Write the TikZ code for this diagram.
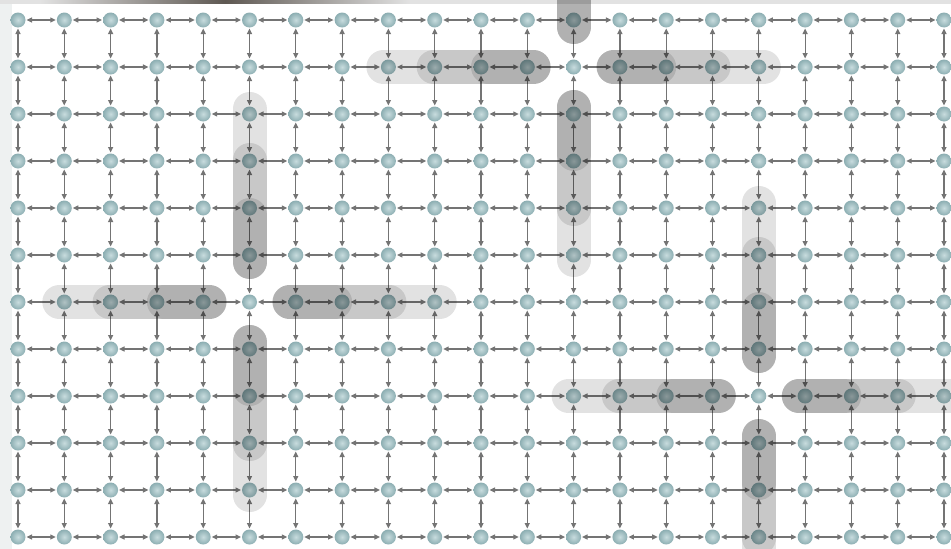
\documentclass[tikz,border=0pt]{standalone}
\usetikzlibrary{arrows.meta}
\definecolor{arrgray}{HTML}{747474}
\definecolor{nodein}{HTML}{C8DCDE}
\definecolor{nodeout}{HTML}{8CAEB2}
\definecolor{stripgray}{HTML}{EEF1F1}
\definecolor{topgray}{HTML}{E2E2E2}
\definecolor{topdark}{HTML}{5E5852}
\tikzset{
  gridnode/.style={circle, minimum size=15pt, inner sep=0pt, draw=none,
    inner color=nodein, outer color=nodeout},
  arr/.style={draw=arrgray, line width=1.2pt,
    {Triangle[length=5.5pt,width=5pt]}-{Triangle[length=5.5pt,width=5pt]},
    shorten <=0.8pt, shorten >=0.8pt},
  capsule/.style={draw=black, draw opacity=0.115, line width=34pt, line cap=round}
}
\begin{document}
\begin{tikzpicture}[x=1pt,y=-1pt]
\useasboundingbox (0,0) rectangle (951,549);
\clip (0,0) rectangle (951,549);
\fill[white] (0,0) rectangle (951,549);
\fill[stripgray] (0,0) rectangle (12,549);
\fill[topgray] (0,0) rectangle (951,3.5);
\shade[left color=topgray, right color=topgray, middle color=topdark] (40,0) rectangle (410,3.5);
% nodes
\foreach \i in {0,...,20} {
  \foreach \j in {0,...,11} {
    \node[gridnode] (n-\i-\j) at ({18+46.3*\i},{20+47*\j}) {};
  }
}
% horizontal connectors
\foreach \i [evaluate=\i as \ii using int(\i+1)] in {0,...,19} {
  \foreach \j in {0,...,11} {
    \draw[arr] (n-\i-\j) -- (n-\ii-\j);
  }
}
% vertical connectors
\foreach \i in {0,...,20} {
  \foreach \j [evaluate=\j as \jj using int(\j+1)] in {0,...,10} {
    \draw[arr] (n-\i-\j) -- (n-\i-\jj);
  }
}
% highlighted arms: three overlapping capsules per arm
\foreach \ci/\cj in {5/6, 12/1, 16/8} {
  \pgfmathsetmacro\X{18+46.3*\ci}
  \pgfmathsetmacro\Y{20+47*\cj}
  \foreach \k/\e in {2/-7, 3/1, 4/5} {
    \draw[capsule] (\X+40,\Y) -- (\X+46.3*\k+\e,\Y);
    \draw[capsule] (\X-40,\Y) -- (\X-46.3*\k-\e,\Y);
    \draw[capsule] (\X,\Y+40) -- (\X,\Y+47*\k+\e);
    \draw[capsule] (\X,\Y-40) -- (\X,\Y-47*\k-\e);
  }
}
\end{tikzpicture}
\end{document}
